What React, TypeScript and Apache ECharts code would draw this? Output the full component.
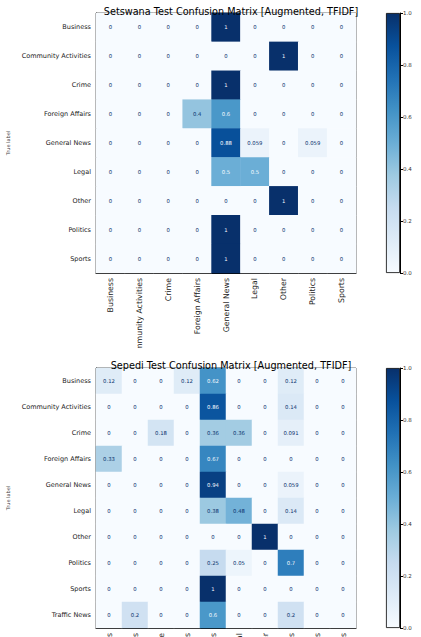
import React, { useEffect, useRef } from "react";
import * as echarts from "echarts";

const topCategories = ["Business", "Community Activities", "Crime", "Foreign Affairs", "General News", "Legal", "Other", "Politics", "Sports"];
const topMatrix = [
  [0, 0, 0, 0, 1, 0, 0, 0, 0],
  [0, 0, 0, 0, 0, 0, 1, 0, 0],
  [0, 0, 0, 0, 1, 0, 0, 0, 0],
  [0, 0, 0, 0.4, 0.6, 0, 0, 0, 0],
  [0, 0, 0, 0, 0.88, 0.059, 0, 0.059, 0],
  [0, 0, 0, 0, 0.5, 0.5, 0, 0, 0],
  [0, 0, 0, 0, 0, 0, 1, 0, 0],
  [0, 0, 0, 0, 1, 0, 0, 0, 0],
  [0, 0, 0, 0, 1, 0, 0, 0, 0],
];
const bottomCategories = ["Business", "Community Activities", "Crime", "Foreign Affairs", "General News", "Legal", "Other", "Politics", "Sports", "Traffic News"];
const bottomMatrix = [
  [0.12, 0, 0, 0.12, 0.62, 0, 0, 0.12, 0, 0],
  [0, 0, 0, 0, 0.86, 0, 0, 0.14, 0, 0],
  [0, 0, 0.18, 0, 0.36, 0.36, 0, 0.091, 0, 0],
  [0.33, 0, 0, 0, 0.67, 0, 0, 0, 0, 0],
  [0, 0, 0, 0, 0.94, 0, 0, 0.059, 0, 0],
  [0, 0, 0, 0, 0.38, 0.48, 0, 0.14, 0, 0],
  [0, 0, 0, 0, 0, 0, 1, 0, 0, 0],
  [0, 0, 0, 0, 0.25, 0.05, 0, 0.7, 0, 0],
  [0, 0, 0, 0, 1, 0, 0, 0, 0, 0],
  [0, 0.2, 0, 0, 0.6, 0, 0, 0.2, 0, 0],
];
const colorbarValue = [1];
const bluesStops = ["#f7fbff", "#deebf7", "#c6dbef", "#9ecae1", "#6baed6", "#4292c6", "#2171b5", "#08519c", "#08306b"];
const topTitle = "Setswana Test Confusion Matrix [Augmented, TFIDF]";
const bottomTitle = "Sepedi Test Confusion Matrix [Augmented, TFIDF]";
const yName = "True label";

const FONT = "DejaVu Sans";

function buildOption(title: string, cats: string[], matrix: number[][], gridTop: number, titleTop: number) {
  const flat = matrix.flat();
  const mx = Math.max(...flat);
  const mn = Math.min(...flat);
  const thresh = (mx + mn) / 2;
  const data: any[] = [];
  matrix.forEach((row, i) =>
    row.forEach((v, j) =>
      data.push({ value: [j, i, v], label: { color: v < thresh ? bluesStops[8] : bluesStops[0] } })
    )
  );
  const gradient = new echarts.graphic.LinearGradient(
    0, 0, 0, 1,
    bluesStops.slice().reverse().map((c, k) => ({ offset: k / (bluesStops.length - 1), color: c }))
  );
  return {
    animation: false,
    textStyle: { fontFamily: FONT },
    title: {
      text: title,
      left: 226,
      top: titleTop,
      textAlign: "center",
      textStyle: { fontSize: 9.7, fontWeight: "normal", color: "#000", fontFamily: FONT },
    },
    grid: [
      { left: 96, top: gridTop, width: 260, height: 260, show: true, borderColor: "#444", borderWidth: 1, backgroundColor: "transparent", containLabel: false, outerBoundsMode: "none" },
      { left: 386, top: gridTop, width: 14, height: 260, containLabel: false, outerBoundsMode: "none" },
    ],
    xAxis: [
      {
        type: "category",
        data: cats,
        gridIndex: 0,
        axisLine: { lineStyle: { color: "#000", width: 1 } },
        axisTick: { alignWithLabel: true, length: 3, lineStyle: { color: "#000" } },
        axisLabel: { rotate: 90, fontSize: 7.8, color: "#222", margin: 5, interval: 0, fontFamily: FONT },
        splitLine: { show: false },
      },
      { type: "category", data: ["cb"], gridIndex: 1, show: false },
    ],
    yAxis: [
      {
        type: "category",
        data: cats,
        inverse: true,
        gridIndex: 0,
        name: yName,
        nameLocation: "middle",
        nameGap: 77,
        nameTextStyle: { fontSize: 5, color: "#444", fontFamily: FONT },
        axisLine: { lineStyle: { color: "#000", width: 1 } },
        axisTick: { alignWithLabel: true, length: 3, lineStyle: { color: "#000" } },
        axisLabel: { fontSize: 6.5, color: "#222", margin: 5, interval: 0, fontFamily: FONT },
        splitLine: { show: false },
      },
      {
        type: "value",
        gridIndex: 1,
        min: 0,
        max: 1,
        interval: 0.2,
        position: "right",
        axisLine: { show: true, lineStyle: { color: "#000" } },
        axisTick: { show: true, length: 3, lineStyle: { color: "#000" } },
        axisLabel: { fontSize: 5.5, color: "#333", margin: 3, fontFamily: FONT, formatter: (v: number) => v.toFixed(1) },
        splitLine: { show: false },
      },
    ],
    visualMap: {
      type: "continuous",
      show: false,
      min: 0,
      max: 1,
      seriesIndex: 0,
      inRange: { color: bluesStops },
    },
    series: [
      {
        type: "heatmap",
        xAxisIndex: 0,
        yAxisIndex: 0,
        data,
        label: { show: true, fontSize: 5.3, fontFamily: FONT, formatter: (p: any) => String(p.value[2]) },
        itemStyle: { borderWidth: 0 },
        emphasis: { disabled: true },
      },
      {
        type: "bar",
        xAxisIndex: 1,
        yAxisIndex: 1,
        data: colorbarValue,
        barWidth: "100%",
        itemStyle: { color: gradient, borderColor: "#000", borderWidth: 0.8 },
        silent: true,
      },
    ],
  };
}

function Chart({ height, option }: { height: number; option: any }) {
  const ref = useRef<HTMLDivElement>(null);
  useEffect(() => {
    if (!ref.current) return;
    const chart = echarts.init(ref.current, undefined, { renderer: "svg" });
    chart.setOption(option);
    return () => chart.dispose();
  }, []);
  return <div ref={ref} style={{ width: 421, height, overflow: "hidden" }} />;
}

export default function App() {
  useEffect(() => {
    document.body.style.margin = "0";
    document.body.style.background = "#fff";
  }, []);
  return (
    <div style={{ width: 421, height: 637, background: "#fff" }}>
      <Chart height={348} option={buildOption(topTitle, topCategories, topMatrix, 13, 1)} />
      <Chart height={289} option={buildOption(bottomTitle, bottomCategories, bottomMatrix, 20, 7)} />
    </div>
  );
}
